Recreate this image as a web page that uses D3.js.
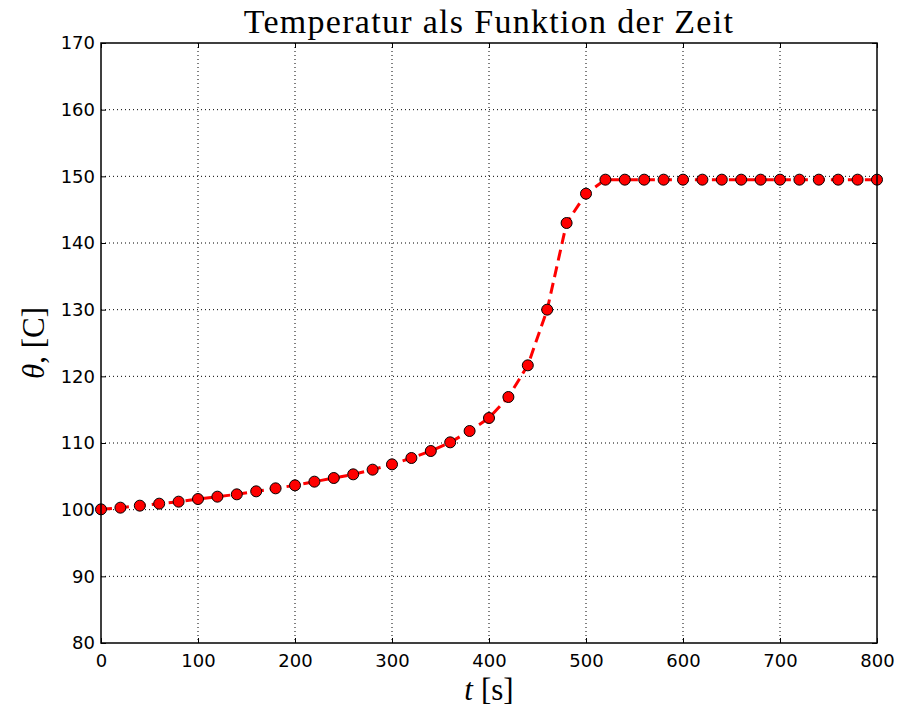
<!DOCTYPE html>
<html>
<head>
<meta charset="utf-8">
<script src="https://cdn.jsdelivr.net/npm/d3@7"></script>
<style>
  body { margin: 0; background: #fff; }
  svg { display: block; }
</style>
</head>
<body>
<div id="vis-holder"></div>
<script>
// Set margins and dimensions
const width = 903;
const height = 711;
const margin = { top: 43, right: 26, bottom: 68, left: 101 };

// data
const times = [0, 20, 40, 60, 80, 100, 120, 140, 160, 180, 200, 220, 240, 260, 280,
               300, 320, 340, 360, 380, 400, 420, 440, 460, 480, 500, 520, 540, 560,
               580, 600, 620, 640, 660, 680, 700, 720, 740, 760, 780, 800];
const temps = [100.05, 100.3, 100.6, 100.9, 101.2, 101.6, 101.95, 102.3, 102.75, 103.2,
               103.65, 104.2, 104.75, 105.3, 106.0, 106.8, 107.75, 108.8, 110.1, 111.8,
               113.75, 116.9, 121.65, 130.0, 143.0, 147.4, 149.5, 149.5, 149.5, 149.5,
               149.5, 149.5, 149.5, 149.5, 149.5, 149.5, 149.5, 149.5, 149.5, 149.5, 149.5];
const xTicks = [0, 100, 200, 300, 400, 500, 600, 700, 800];
const yTicks = [80, 90, 100, 110, 120, 130, 140, 150, 160, 170];

const data = times.map((t, i) => ({ t: t, temp: temps[i] }));

const svg = d3.select("#vis-holder")
              .append("svg")
              .attr("width", width)
              .attr("height", height);

const x = d3.scaleLinear()
            .domain([0, 800])
            .range([margin.left, width - margin.right]);

const y = d3.scaleLinear()
            .domain([80, 170])
            .range([height - margin.bottom, margin.top]);

// grid
svg.append("g")
   .selectAll("line")
   .data(xTicks.slice(1, -1))
   .enter()
   .append("line")
     .attr("x1", d => x(d)).attr("x2", d => x(d))
     .attr("y1", margin.top).attr("y2", height - margin.bottom)
     .attr("stroke", "#000").attr("stroke-width", 1)
     .attr("stroke-dasharray", "1,3");

svg.append("g")
   .selectAll("line")
   .data(yTicks.slice(1, -1))
   .enter()
   .append("line")
     .attr("y1", d => y(d)).attr("y2", d => y(d))
     .attr("x1", margin.left).attr("x2", width - margin.right)
     .attr("stroke", "#000").attr("stroke-width", 1)
     .attr("stroke-dasharray", "1,3");

// axes (inward ticks, on all sides)
const tickFont = "'DejaVu Sans', sans-serif";

svg.append("g")
   .attr("transform", `translate(0,${height - margin.bottom})`)
   .call(d3.axisBottom(x).tickValues(xTicks).tickSize(-5).tickPadding(11))
   .call(g => g.select(".domain").remove())
   .attr("font-family", tickFont).attr("font-size", "18px");

svg.append("g")
   .attr("transform", `translate(0,${margin.top})`)
   .call(d3.axisTop(x).tickValues(xTicks).tickSize(-5).tickFormat(""))
   .call(g => g.select(".domain").remove());

svg.append("g")
   .attr("transform", `translate(${margin.left},0)`)
   .call(d3.axisLeft(y).tickValues(yTicks).tickSize(-5).tickPadding(6))
   .call(g => g.select(".domain").remove())
   .attr("font-family", tickFont).attr("font-size", "18px");

svg.append("g")
   .attr("transform", `translate(${width - margin.right},0)`)
   .call(d3.axisRight(y).tickValues(yTicks).tickSize(-5).tickFormat(""))
   .call(g => g.select(".domain").remove());

svg.selectAll(".tick text").attr("fill", "#000");

// the dashed line
const line = d3.line()
               .x(d => x(d.t))
               .y(d => y(d.temp));

svg.append("path")
   .datum(data)
   .attr("d", line)
   .attr("fill", "none")
   .attr("stroke", "#ff0000")
   .attr("stroke-width", 3)
   .attr("stroke-dasharray", "11,6");

// points
svg.selectAll("circle")
   .data(data)
   .enter()
   .append("circle")
     .attr("cx", d => x(d.t))
     .attr("cy", d => y(d.temp))
     .attr("r", 5.5)
     .attr("fill", "#ff0000")
     .attr("stroke", "#000")
     .attr("stroke-width", 1);

// frame
svg.append("rect")
   .attr("x", margin.left).attr("y", margin.top)
   .attr("width", width - margin.left - margin.right)
   .attr("height", height - margin.top - margin.bottom)
   .attr("fill", "none")
   .attr("stroke", "#000")
   .attr("stroke-width", 1.5);

// title and labels
const serif = "'Liberation Serif', 'DejaVu Serif', serif";

svg.append("text")
   .attr("x", (margin.left + width - margin.right) / 2)
   .attr("y", 33)
   .attr("text-anchor", "middle")
   .attr("font-family", serif)
   .attr("font-size", "34px")
   .attr("letter-spacing", "1.3px")
   .text("Temperatur als Funktion der Zeit");

svg.append("text")
   .attr("x", (margin.left + width - margin.right) / 2)
   .attr("y", 700)
   .attr("text-anchor", "middle")
   .attr("font-family", serif)
   .attr("font-size", "31px")
   .call(t => t.append("tspan").attr("font-style", "italic").text("t"))
   .call(t => t.append("tspan").attr("dx", 8).text("[s]"));

svg.append("text")
   .attr("transform", `translate(44,${(margin.top + height - margin.bottom) / 2}) rotate(-90)`)
   .attr("text-anchor", "middle")
   .attr("font-family", serif)
   .attr("font-size", "31px")
   .call(t => t.append("tspan").attr("font-style", "italic").text("θ"))
   .call(t => t.append("tspan").text(", [C]"));
</script>
</body>
</html>
